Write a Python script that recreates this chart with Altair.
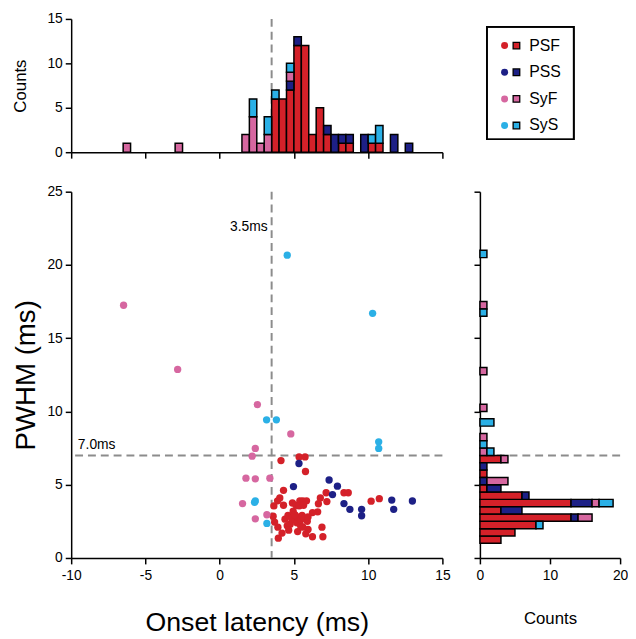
import altair as alt
import pandas as pd

FONT = "Liberation Sans"
cats = ["PSF", "PSS", "SyF", "SyS"]
colors = ["#d42129", "#1d2086", "#d667a0", "#2bb0e6"]
BIN = 0.5

# ---------------- scatter values (onset latency ms, PWHM ms) ----------------
psf_x = [4.13, 5.35, 5.75, 5.78, 4.30, 7.17, 8.37, 8.66, 6.78, 10.75, 10.2, 7.22, 6.6, 6.25, 6.89, 6.95, 6.25, 5.95, 6.65,
         3.65, 3.9, 3.6, 3.92, 3.95, 3.7,
         4.05, 4.4, 4.2, 4.3,
         4.6, 4.75, 4.85, 4.55, 4.9, 4.65, 4.95,
         5.05, 5.1, 5.2, 5.3, 5.15, 5.4, 5.25, 5.45, 5.35, 5.05, 5.45,
         5.6, 5.85, 5.55, 5.7, 5.9, 5.6, 5.8, 5.65, 5.95]
psf_y = [6.65, 6.9, 6.9, 5.9, 4.62, 4.45, 4.45, 4.45, 4.1, 4.05, 3.88, 3.85, 3.15, 3.1, 2.1, 1.45, 1.45, 1.95, 3.7,
         3.55, 3.9, 2.85, 2.1, 1.35, 2.45,
         4.1, 2.65, 1.7, 3.6,
         2.9, 2.3, 2.7, 2.2, 3.75, 1.9, 3.2,
         2.6, 2.9, 2.4, 2.75, 3.6, 3.9, 1.8, 2.2, 3.55, 2.95, 2.6,
         3.9, 3.9, 2.9, 2.7, 2.5, 2.1, 1.65, 3.6, 2.8]
pss_x = [4.97, 5.34, 7.37, 7.93, 7.60, 8.37, 8.77, 9.56, 9.56, 11.59, 11.72, 12.98]
pss_y = [4.87, 6.45, 5.32, 4.90, 4.33, 3.71, 3.32, 3.32, 2.88, 3.95, 3.32, 3.89]
syf_x = [-6.47, -2.83, 2.54, 4.79, 2.40, 2.19, 1.77, 2.40, 3.38, 1.54, 3.18, 2.40]
syf_y = [17.25, 12.87, 10.47, 8.47, 7.48, 6.95, 5.45, 5.4, 5.45, 3.71, 2.95, 2.67]
sys_x = [4.55, 10.3, 3.16, 3.82, 10.71, 10.71, 2.40, 2.35, 3.18]
sys_y = [20.67, 16.7, 9.43, 9.43, 7.93, 7.48, 3.89, 3.80, 2.36]

# ---------------- top histogram (onset latency, 0.5 ms bins) ----------------
top_psf_bins = [3.5, 4.0, 4.5, 5.0, 5.5, 6.0, 6.5, 7.0, 8.0, 8.5, 10.0, 10.5]
top_psf_counts = [6, 6, 7, 12, 12, 2, 5, 2, 1, 1, 1, 1]
top_pss_bins = [4.5, 5.0, 7.0, 7.5, 8.0, 8.5, 9.5, 11.5, 12.5]
top_pss_counts = [1, 1, 1, 2, 1, 1, 2, 2, 1]
top_syf_bins = [-6.5, -3.0, 1.5, 2.0, 2.5, 3.0, 4.5]
top_syf_counts = [1, 1, 2, 4, 1, 2, 1]
top_sys_bins = [2.0, 3.0, 3.5, 4.5, 10.0, 10.5]
top_sys_counts = [2, 2, 1, 1, 1, 2]

# ---------------- right histogram (PWHM, 0.5 ms bins) ----------------
rt_psf_bins = [1.0, 1.5, 2.0, 2.5, 3.0, 3.5, 4.0, 4.5, 5.5, 6.5]
rt_psf_counts = [3, 5, 8, 13, 3, 13, 6, 1, 1, 3]
rt_pss_bins = [2.5, 3.0, 3.5, 4.0, 4.5, 5.0, 6.0]
rt_pss_counts = [1, 3, 3, 1, 2, 1, 1]
rt_syf_bins = [2.5, 3.5, 5.0, 6.5, 7.0, 8.0, 10.0, 12.5, 17.0]
rt_syf_counts = [2, 1, 3, 1, 1, 1, 1, 1, 1]
rt_sys_bins = [2.0, 3.5, 7.0, 7.5, 9.0, 16.5, 20.5]
rt_sys_counts = [1, 2, 1, 1, 2, 1, 1]

thresholds = pd.DataFrame({"latency": [3.5], "pwhm": [7.0]})

# ---------------- tables ----------------
pts = []
for cat, xs, ys in [("PSF", psf_x, psf_y), ("PSS", pss_x, pss_y),
                    ("SyF", syf_x, syf_y), ("SyS", sys_x, sys_y)]:
    for x, y in zip(xs, ys):
        pts.append({"cat": cat, "onset": x, "pwhm": y})
pts = pd.DataFrame(pts)


def stacked(parts):
    base, rows = {}, []
    for cat, bins, counts in parts:
        for b, c in zip(bins, counts):
            lo = base.get(b, 0)
            rows.append({"cat": cat, "b0": b, "b1": b + BIN, "lo": lo, "hi": lo + c})
            base[b] = lo + c
    return pd.DataFrame(rows)


top_df = stacked([("PSF", top_psf_bins, top_psf_counts), ("PSS", top_pss_bins, top_pss_counts),
                  ("SyF", top_syf_bins, top_syf_counts), ("SyS", top_sys_bins, top_sys_counts)])
rt_df = stacked([("PSF", rt_psf_bins, rt_psf_counts), ("PSS", rt_pss_bins, rt_pss_counts),
                 ("SyF", rt_syf_bins, rt_syf_counts), ("SyS", rt_sys_bins, rt_sys_counts)])

color = alt.Color("cat:N", scale=alt.Scale(domain=cats, range=colors), legend=None)
xscale = alt.Scale(domain=[-10, 15], nice=False, zero=False)
yscale = alt.Scale(domain=[0, 25], nice=False)
xticks = [-10, -5, 0, 5, 10, 15]
yticks = [0, 5, 10, 15, 20, 25]
dash = dict(strokeDash=[8, 5], color="#8c8c8c", strokeWidth=2)

# ---------------- top histogram ----------------
top_bars = alt.Chart(top_df).mark_rect(stroke="black", strokeWidth=1.5).encode(
    x=alt.X("b0:Q", scale=xscale, axis=alt.Axis(values=xticks, labels=False, title=None)),
    x2="b1:Q",
    y=alt.Y("lo:Q", scale=alt.Scale(domain=[0, 15], nice=False),
            axis=alt.Axis(values=[0, 5, 10, 15], title="Counts", titleFontSize=17, titlePadding=18)),
    y2="hi:Q",
    color=color,
)
top_rule = alt.Chart(thresholds).mark_rule(**dash).encode(x=alt.X("latency:Q", scale=xscale))
top = alt.layer(top_rule, top_bars).properties(width=376, height=135)

# ---------------- legend panel ----------------
leg_df = pd.DataFrame({"cat": cats})
leg_y = alt.Y("cat:N", scale=alt.Scale(type="point", domain=cats, padding=1.4), axis=None)
leg_box = alt.Chart(leg_df).mark_rect(fill=None, stroke="black", strokeWidth=1.5).encode(
    x=alt.value(7), x2=alt.value(95), y=alt.value(8), y2=alt.value(122))
leg_dot = alt.Chart(leg_df).mark_circle(size=50, opacity=1).encode(x=alt.value(25), y=leg_y, color=color)
leg_sq = alt.Chart(leg_df).mark_square(size=45, opacity=1, stroke="black", strokeWidth=1.3).encode(
    x=alt.value(37), y=leg_y, color=color)
leg_txt = alt.Chart(leg_df).mark_text(align="left", baseline="middle", font=FONT, fontSize=16,
                                      color="black").encode(x=alt.value(50), y=leg_y, text="cat:N")
legend = alt.layer(leg_box, leg_dot, leg_sq, leg_txt).properties(width=142, height=135)

# ---------------- scatter ----------------
sc_points = alt.Chart(pts).mark_circle(size=55, opacity=1).encode(
    x=alt.X("onset:Q", scale=xscale,
            axis=alt.Axis(values=xticks, title="Onset latency (ms)", titleFontSize=27, titlePadding=27,
                          labelPadding=5, labelExpr="'' + datum.value")),
    y=alt.Y("pwhm:Q", scale=yscale,
            axis=alt.Axis(values=yticks, title="PWHM (ms)", titleFontSize=28, titlePadding=7)),
    color=color,
)
sc_vrule = alt.Chart(thresholds).mark_rule(**dash).encode(x=alt.X("latency:Q", scale=xscale))
sc_hrule = alt.Chart(thresholds).mark_rule(**dash).encode(y=alt.Y("pwhm:Q", scale=yscale))
sc_vtxt = alt.Chart(thresholds).mark_text(align="right", baseline="middle", dx=-4, font=FONT,
                                          fontSize=14, color="black").encode(
    x=alt.X("latency:Q", scale=xscale), y=alt.datum(22.6), text=alt.value("3.5ms"))
sc_htxt = alt.Chart(thresholds).mark_text(align="left", baseline="bottom", dy=-4, font=FONT,
                                          fontSize=14, color="black").encode(
    x=alt.datum(-9.55), y=alt.Y("pwhm:Q", scale=yscale), text=alt.value("7.0ms"))
scatter = alt.layer(sc_vrule, sc_hrule, sc_points, sc_vtxt, sc_htxt).properties(width=376, height=371)

# ---------------- right histogram ----------------
rt_bars = alt.Chart(rt_df).mark_rect(stroke="black", strokeWidth=1.5).encode(
    x=alt.X("lo:Q", scale=alt.Scale(domain=[0, 20], nice=False),
            axis=alt.Axis(values=[0, 10, 20], title="Counts", titleFontSize=17, titlePadding=28,
                          labelPadding=5)),
    x2="hi:Q",
    y=alt.Y("b0:Q", scale=yscale, axis=alt.Axis(values=yticks, labels=False, title=None)),
    y2="b1:Q",
    color=color,
)
rt_rule = alt.Chart(thresholds).mark_rule(**dash).encode(y=alt.Y("pwhm:Q", scale=yscale))
right = alt.layer(rt_rule, rt_bars).properties(width=142, height=371)

chart = alt.concat(
    top, legend, scatter, right,
    columns=2, spacing={"row": 40, "column": 38}, bounds="flush",
).properties(padding={"left": 3, "top": 0, "right": 0, "bottom": 0}).configure_axis(
    domainColor="black", domainWidth=1.5, tickColor="black", tickWidth=1.5, tickSize=6,
    labelFont=FONT, labelFontSize=14, labelColor="black", labelPadding=3,
    labelFlush=False, labelOverlap=False,
    titleFont=FONT, titleFontWeight="normal", titleColor="black", grid=False,
).configure_view(stroke=None)

chart = chart.resolve_scale(color="shared")

chart.save("out.html", embed_options={"renderer": "svg", "actions": False})
